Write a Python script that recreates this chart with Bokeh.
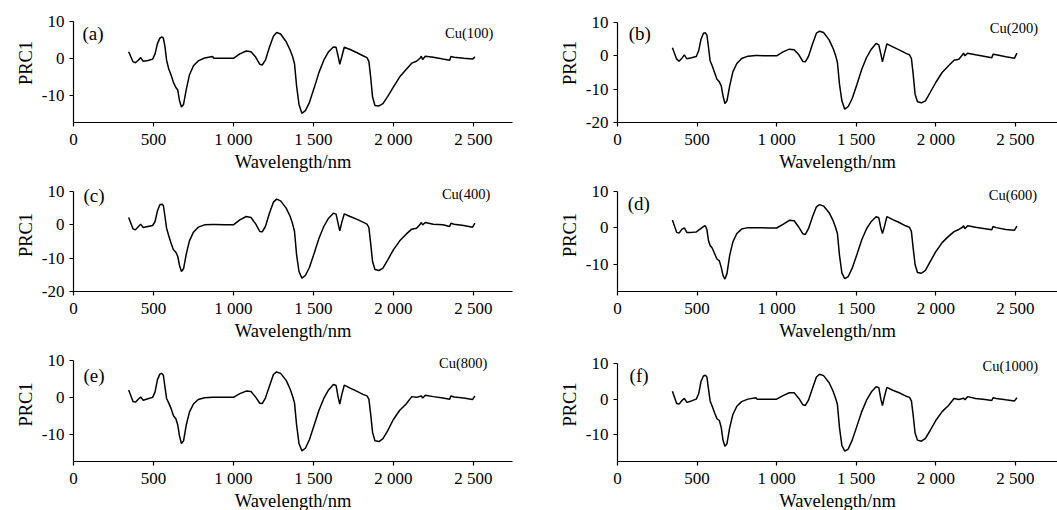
from bokeh.plotting import figure
from bokeh.layouts import column, row
from bokeh.models import Label, FixedTicker, Range1d
from bokeh.embed import file_html
from bokeh.resources import INLINE

FONT = "Liberation Serif"

wavelength = [345, 372, 387, 405, 420, 436, 465, 495, 510, 525,
              540, 552, 562, 572, 582, 595, 610, 625, 640, 652,
              663, 675, 688, 705, 725, 750, 780, 820, 870, 878,
              950, 1000, 1040, 1080, 1110, 1140, 1165, 1180, 1200, 1225,
              1250, 1270, 1295, 1330, 1355, 1370, 1382, 1395, 1410, 1428,
              1450, 1475, 1505, 1535, 1565, 1595, 1625, 1642, 1655, 1665,
              1678, 1693, 1730, 1770, 1810, 1835, 1847, 1858, 1870, 1885,
              1910, 1935, 1965, 2000, 2040, 2080, 2115, 2145, 2168, 2175,
              2183, 2200, 2250, 2310, 2352, 2360, 2380, 2440, 2495, 2510]

prc1_cu100 = [1.8, -0.9, -1.2, -0.5, 0.2, -0.8, -0.6, -0.2, 1.2, 4.0,
              5.5, 5.8, 5.5, 3.2, -0.5, -2.8, -4.5, -6.5, -7.9, -8.6,
              -11.5, -13.2, -12.5, -8.5, -4.5, -2.0, -0.7, 0.1, 0.5, 0.0,
              0.0, 0.0, 1.2, 2.0, 1.8, 0.3, -1.6, -1.8, -0.5, 3.0,
              6.0, 7.0, 6.6, 4.5, 2.2, 0.5, -1.5, -7.5, -12.5, -14.9,
              -14.2, -12.0, -8.0, -3.8, -0.5, 1.8, 3.1, 3.0, 0.5, -1.6,
              0.5, 3.0, 2.4, 1.6, 0.7, 0.2, -0.8, -5.0, -10.5, -12.8,
              -12.9, -12.3, -10.3, -7.8, -5.0, -3.0, -1.3, -0.8, 0.1, 0.6,
              -0.3, 0.6, 0.3, -0.2, -0.5, 0.5, 0.3, 0.0, -0.2, 0.4]

prc1_cu200 = [2.4, -1.0, -1.6, -0.7, 0.3, -0.9, -0.6, -0.2, 1.5, 5.0,
              6.8, 6.9, 6.2, 2.5, -1.5, -3.0, -5.0, -7.0, -7.8, -9.0,
              -12.0, -14.3, -13.5, -9.0, -4.8, -2.3, -0.8, -0.1, 0.1, 0.1,
              0.0, 0.0, 1.2, 2.0, 1.8, 0.3, -1.7, -1.8, -0.2, 3.5,
              6.8, 7.4, 7.0, 4.8, 2.2, 0.2, -2.0, -8.5, -13.5, -16.0,
              -15.2, -12.8, -8.5, -4.0, -0.5, 2.0, 3.7, 3.3, 0.5, -1.8,
              0.8, 3.6, 2.7, 1.8, 0.8, 0.3, -0.8, -5.5, -11.5, -13.8,
              -14.1, -13.5, -11.0, -8.0, -5.0, -3.0, -1.3, -1.0, 0.3, 0.8,
              0.0, 0.8, 0.3, -0.2, -0.6, 0.5, 0.3, -0.3, -0.7, 0.8]

prc1_cu400 = [2.2, -1.2, -1.5, -0.6, 0.2, -0.8, -0.5, -0.2, 1.0, 4.2,
              6.0, 6.2, 5.8, 2.5, -1.0, -3.2, -5.5, -7.5, -8.2, -9.5,
              -12.2, -14.0, -13.2, -8.8, -4.8, -2.2, -0.7, 0.0, 0.1, 0.1,
              0.0, 0.0, 1.5, 2.5, 2.2, 0.2, -2.0, -2.1, -0.5, 3.5,
              6.8, 7.7, 7.2, 5.0, 2.5, 0.3, -2.0, -9.0, -14.0, -16.0,
              -15.2, -12.8, -8.5, -4.0, -0.5, 2.0, 3.5, 3.2, 0.3, -1.8,
              0.8, 3.3, 2.5, 1.7, 0.8, 0.2, -0.8, -5.5, -11.0, -13.4,
              -13.7, -13.0, -10.5, -7.5, -4.8, -2.8, -1.3, -1.0, 0.2, 0.7,
              0.0, 0.7, 0.2, 0.0, -0.5, 0.5, 0.2, -0.2, -0.7, 0.5]

prc1_cu600 = [2.2, -1.2, -1.4, -0.3, 0.0, -1.2, -1.2, -1.1, -0.6, -0.1,
              0.4, 0.6, -0.5, -3.5, -4.8, -5.5, -7.0, -8.5, -9.0, -10.8,
              -13.0, -14.0, -12.5, -7.5, -3.8, -1.5, -0.3, 0.1, 0.1, 0.1,
              0.0, 0.0, 1.0, 2.1, 2.0, 0.2, -1.6, -1.8, -0.2, 3.0,
              5.8, 6.4, 6.0, 4.2, 2.0, 0.2, -1.5, -7.5, -12.3, -13.9,
              -13.3, -11.0, -7.2, -3.2, -0.2, 1.8, 3.1, 2.8, 0.0, -1.5,
              0.5, 3.1, 2.3, 1.5, 0.6, 0.2, -1.0, -5.5, -10.0, -12.2,
              -12.4, -11.6, -9.2, -6.5, -4.0, -2.3, -1.0, -0.4, 0.2, 0.6,
              -0.2, 0.6, 0.2, -0.2, -0.5, 0.4, 0.1, -0.4, -0.6, 0.5]

prc1_cu800 = [2.0, -1.1, -1.3, -0.5, 0.1, -0.8, -0.4, 0.0, 1.5, 4.8,
              6.3, 6.5, 6.0, 2.8, -0.3, -1.5, -3.0, -5.0, -5.8, -7.5,
              -10.5, -12.5, -11.8, -7.5, -4.0, -1.8, -0.6, -0.1, 0.0, 0.0,
              0.0, 0.0, 1.0, 1.7, 1.6, 0.0, -1.6, -1.7, -0.2, 3.0,
              6.2, 6.9, 6.5, 4.6, 2.2, 0.3, -1.5, -7.5, -12.5, -14.5,
              -13.8, -11.5, -7.5, -3.5, -0.3, 2.0, 3.5, 3.2, 0.0, -1.8,
              0.8, 3.3, 2.5, 1.7, 0.8, 0.4, -0.5, -4.5, -9.5, -11.8,
              -12.0, -11.2, -9.0, -6.0, -3.5, -1.8, 0.2, 0.0, 0.3, 0.4,
              -0.2, 0.6, 0.2, -0.2, -0.5, 0.4, 0.1, -0.2, -0.6, 0.4]

prc1_cu1000 = [2.2, -1.2, -1.4, -0.4, 0.2, -0.9, -0.5, 0.0, 1.5, 5.0,
               6.5, 6.7, 6.2, 2.8, -0.5, -2.0, -3.8, -5.5, -6.0, -8.0,
               -11.5, -13.2, -12.5, -8.0, -4.3, -2.0, -0.7, 0.0, 0.4, 0.0,
               0.0, 0.0, 1.0, 1.8, 1.8, 0.2, -1.6, -1.8, -0.3, 3.0,
               6.2, 7.0, 6.6, 4.6, 2.2, 0.3, -1.5, -8.0, -13.0, -14.6,
               -14.0, -11.5, -7.5, -3.5, -0.3, 2.0, 3.5, 3.2, 0.0, -1.8,
               0.8, 3.3, 2.5, 1.8, 0.9, 0.5, -0.5, -4.5, -9.5, -11.5,
               -11.8, -11.0, -8.8, -6.0, -3.5, -1.8, 0.2, -0.1, 0.2, 0.3,
               -0.2, 0.7, 0.2, -0.1, -0.4, 0.4, 0.2, -0.2, -0.5, 0.4]

x_ticks = [0, 500, 1000, 1500, 2000, 2500]
x_tick_labels = ["0", "500", "1 000", "1 500", "2 000", "2 500"]
panel_tags = ["(a)", "(b)", "(c)", "(d)", "(e)", "(f)"]
panel_names = ["Cu(100)", "Cu(200)", "Cu(400)", "Cu(600)", "Cu(800)", "Cu(1000)"]

for s in [prc1_cu100, prc1_cu200, prc1_cu400, prc1_cu600, prc1_cu800, prc1_cu1000]:
    assert len(s) == len(wavelength), len(s)

TOP_B = 3
BOT_B = 53


def make_panel(vals, tag, name, ymin, yticks, left, row_start, y10_px, axis_px,
               tag_pos, name_pos):
    xend = 2745 if left else 2765
    frame_top = row_start + TOP_B
    fh = axis_px - frame_top
    scale = (axis_px - y10_px) / (10 - ymin)
    ytop = 10 + (y10_px - frame_top) / scale
    p = figure(output_backend="svg", toolbar_location=None,
               x_range=Range1d(0, xend), y_range=Range1d(ymin, ytop),
               frame_width=439 if left else 440, frame_height=fh,
               min_border_left=73 if left else 89,
               min_border_right=16 if left else 0,
               min_border_top=TOP_B, min_border_bottom=BOT_B,
               background_fill_color="white", border_fill_color="white")
    p.outline_line_color = None
    p.xgrid.visible = False
    p.ygrid.visible = False
    p.line(wavelength, vals, line_color="black", line_width=1.5)

    p.xaxis.ticker = FixedTicker(ticks=x_ticks)
    p.xaxis.major_label_overrides = {t: l for t, l in zip(x_ticks, x_tick_labels)}
    p.yaxis.ticker = FixedTicker(ticks=yticks)
    p.yaxis.major_label_overrides = {t: str(t) for t in yticks}
    p.yaxis.bounds = (ymin, 10)
    p.xaxis.axis_label = "Wavelength/nm"
    p.yaxis.axis_label = "PRC1"
    for ax in (p.xaxis, p.yaxis):
        ax.axis_line_color = "black"
        ax.axis_line_width = 1.2
        ax.major_tick_line_color = "black"
        ax.major_tick_line_width = 1.2
        ax.major_tick_out = 4
        ax.major_tick_in = 0
        ax.minor_tick_out = 0
        ax.minor_tick_in = 0
        ax.major_label_text_font = FONT
        ax.major_label_text_font_size = "17px"
        ax.major_label_text_color = "black"
        ax.axis_label_text_font = FONT
        ax.axis_label_text_font_size = "18.5px"
        ax.axis_label_text_font_style = "normal"
        ax.axis_label_text_color = "black"
    p.xaxis.major_label_standoff = 3
    p.xaxis.axis_label_standoff = 0
    p.yaxis.major_label_standoff = 5
    p.yaxis.axis_label_standoff = 3

    p.add_layout(Label(x=tag_pos[0], y=tag_pos[1], text=tag, text_font=FONT,
                       text_font_size="19px", text_baseline="middle",
                       text_align="left", text_color="black"))
    p.add_layout(Label(x=name_pos[0], y=name_pos[1], text=name, text_font=FONT,
                       text_font_size="14.5px", text_baseline="middle",
                       text_align="right", text_color="black"))
    return p


r1 = 0
r2 = 122 + BOT_B
r3 = 291 + BOT_B
pa = make_panel(prc1_cu100, panel_tags[0], panel_names[0], -17.4, [-10, 0, 10], True, r1, 21, 122, (56, 6.8), (2625, 7.0))
pb = make_panel(prc1_cu200, panel_tags[1], panel_names[1], -20, [-20, -10, 0, 10], False, r1, 22, 122, (70, 6.8), (2643, 8.3))
pc = make_panel(prc1_cu400, panel_tags[2], panel_names[2], -20, [-20, -10, 0, 10], True, r2, 191, 291, (62, 8.7), (2606, 9.3))
pd = make_panel(prc1_cu600, panel_tags[3], panel_names[3], -17.4, [-10, 0, 10], False, r2, 191, 291, (64, 6.8), (2637, 9.0))
pe = make_panel(prc1_cu800, panel_tags[4], panel_names[4], -17.4, [-10, 0, 10], True, r3, 360, 461, (62, 6.0), (2588, 9.3))
pf = make_panel(prc1_cu1000, panel_tags[5], panel_names[5], -17.5, [-10, 0, 10], False, r3, 363, 461, (76, 6.6), (2643, 9.4))

layout = column(row(pa, pb), row(pc, pd), row(pe, pf))
open("out.html", "w").write(file_html(layout, INLINE))
